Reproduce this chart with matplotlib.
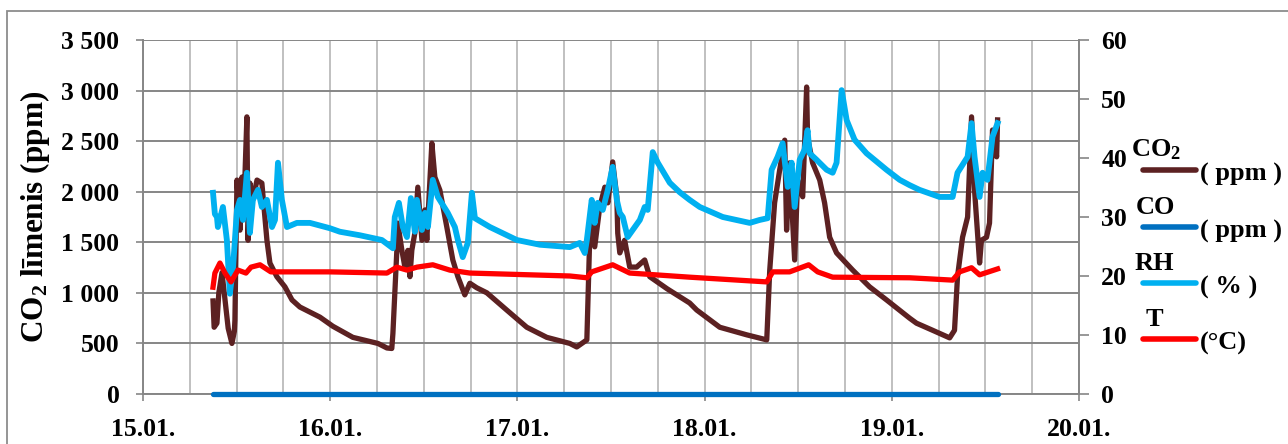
import matplotlib
matplotlib.use("Agg")
from matplotlib import pyplot as plt
from matplotlib.lines import Line2D
from matplotlib.patches import Rectangle
from matplotlib.ticker import MultipleLocator, FixedLocator

# measured series, time given as day of January (15.5 = 15.01. 12:00)
co2_time = [15.374, 15.380, 15.395, 15.405, 15.422, 15.440, 15.455, 15.475, 15.488, 15.491,
            15.502, 15.518, 15.529, 15.540, 15.555, 15.561, 15.571, 15.587, 15.609, 15.635,
            15.662, 15.678, 15.715, 15.758, 15.796, 15.838, 15.945, 16.014, 16.121, 16.255,
            16.303, 16.329, 16.335, 16.356, 16.361, 16.383, 16.399, 16.415, 16.426, 16.436,
            16.452, 16.468, 16.490, 16.506, 16.516, 16.543, 16.559, 16.586, 16.623, 16.655,
            16.682, 16.719, 16.746, 16.783, 16.837, 16.943, 17.050, 17.157, 17.280, 17.317,
            17.371, 17.387, 17.397, 17.413, 17.440, 17.467, 17.483, 17.509, 17.531, 17.536,
            17.547, 17.573, 17.600, 17.637, 17.680, 17.707, 17.800, 17.920, 17.958, 18.081,
            18.225, 18.332, 18.348, 18.374, 18.401, 18.428, 18.438, 18.454, 18.481, 18.497,
            18.524, 18.545, 18.550, 18.577, 18.615, 18.641, 18.668, 18.705, 18.791, 18.881,
            18.972, 19.095, 19.132, 19.218, 19.309, 19.335, 19.351, 19.378, 19.405, 19.426,
            19.442, 19.469, 19.479, 19.506, 19.522, 19.538, 19.560, 19.565]
co2_ppm = [920, 660, 700, 1000, 1200, 900, 650, 500, 620, 730,
           2115, 1620, 2145, 1900, 2740, 1520, 2085, 1920, 2115, 2085,
           1520, 1295, 1160, 1060, 930, 860, 760, 670, 560, 500,
           455, 450, 600, 1420, 1690, 1420, 1255, 1420, 1160, 1420,
           1590, 2045, 1520, 1820, 1520, 2480, 2145, 2015, 1650, 1325,
           1160, 980, 1095, 1050, 1000, 830, 660, 560, 500, 465,
           535, 1590, 1890, 1455, 1850, 2045, 1890, 2295, 1950, 1590,
           1395, 1520, 1255, 1255, 1325, 1160, 1040, 900, 830, 660,
           585, 535, 1225, 1890, 2215, 2510, 1620, 2285, 1325, 2115,
           1950, 3035, 2540, 2285, 2115, 1890, 1550, 1395, 1225, 1060,
           930, 750, 700, 630, 555, 630, 1160, 1550, 1750, 2740,
           2015, 1295, 1520, 1550, 1690, 2610, 2345, 2710]

co_time = [15.374, 19.565]
co_ppm = [0, 0]

rh_time = [15.374, 15.384, 15.395, 15.400, 15.427, 15.448, 15.464, 15.481, 15.502, 15.518,
           15.534, 15.555, 15.571, 15.587, 15.614, 15.635, 15.662, 15.689, 15.705, 15.721,
           15.742, 15.769, 15.822, 15.892, 15.998, 16.052, 16.159, 16.276, 16.335, 16.345,
           16.367, 16.388, 16.410, 16.431, 16.452, 16.463, 16.490, 16.506, 16.522, 16.548,
           16.575, 16.628, 16.666, 16.682, 16.708, 16.735, 16.757, 16.773, 16.853, 16.997,
           17.120, 17.280, 17.333, 17.360, 17.371, 17.397, 17.413, 17.429, 17.456, 17.483,
           17.509, 17.531, 17.547, 17.563, 17.589, 17.654, 17.680, 17.696, 17.723, 17.750,
           17.814, 17.867, 17.920, 17.974, 18.097, 18.241, 18.294, 18.337, 18.358, 18.390,
           18.417, 18.444, 18.465, 18.481, 18.508, 18.534, 18.550, 18.561, 18.598, 18.652,
           18.684, 18.705, 18.732, 18.759, 18.801, 18.865, 18.972, 19.042, 19.095, 19.148,
           19.255, 19.325, 19.351, 19.405, 19.426, 19.442, 19.469, 19.485, 19.511, 19.538,
           19.565]
rh_pct = [34.1, 30.5, 30.0, 28.3, 31.7, 26.1, 17.0, 21.5, 31.2, 32.9,
          29.5, 37.5, 27.3, 32.9, 34.6, 31.7, 32.9, 28.3, 29.5, 39.2,
          32.9, 28.3, 29.0, 29.0, 28.1, 27.5, 26.9, 26.1, 24.7, 30.0,
          32.4, 28.3, 26.6, 33.2, 27.5, 32.9, 27.8, 30.7, 28.3, 36.3,
          33.4, 30.7, 28.3, 26.1, 23.2, 25.6, 34.1, 29.8, 28.3, 26.1,
          25.3, 24.9, 25.6, 23.9, 26.1, 32.9, 29.0, 32.4, 31.2, 34.6,
          38.5, 32.9, 30.7, 30.0, 26.6, 29.5, 31.7, 31.2, 41.0, 39.2,
          35.8, 34.2, 32.9, 31.7, 30.0, 29.0, 29.5, 29.8, 38.0, 40.2,
          42.5, 35.1, 39.2, 31.7, 39.7, 41.4, 44.7, 40.8, 39.7, 38.0,
          37.5, 39.2, 51.5, 46.4, 43.1, 40.8, 38.0, 36.3, 35.4, 34.6,
          33.4, 33.4, 37.5, 40.2, 45.9, 40.2, 33.4, 37.5, 36.3, 43.6,
          45.9]

t_time = [15.374, 15.384, 15.411, 15.438, 15.470, 15.507, 15.550, 15.577, 15.625, 15.683,
          15.998, 16.303, 16.356, 16.410, 16.463, 16.548, 16.639, 16.746, 17.280, 17.371,
          17.397, 17.509, 17.600, 17.920, 18.332, 18.364, 18.454, 18.556, 18.604, 18.684,
          19.095, 19.325, 19.362, 19.426, 19.469, 19.565]
t_degc = [18.1, 20.5, 22.2, 20.5, 19.0, 21.0, 20.5, 21.5, 21.9, 20.7,
          20.7, 20.5, 21.5, 21.0, 21.5, 21.9, 21.0, 20.5, 20.0, 19.7,
          20.7, 21.9, 20.5, 19.8, 19.0, 20.7, 20.7, 21.9, 20.7, 19.8,
          19.7, 19.3, 20.7, 21.4, 20.2, 21.2]

day_ticks = [15, 16, 17, 18, 19, 20]
day_labels = ["15.01.", "16.01.", "17.01.", "18.01.", "19.01.", "20.01."]
left_ticks = [0, 500, 1000, 1500, 2000, 2500, 3000, 3500]
left_labels = ["0", "500", "1 000", "1 500", "2 000", "2 500", "3 000", "3 500"]
right_ticks = [0, 10, 20, 30, 40, 50, 60]

C_CO2 = "#5C2122"
C_CO = "#0070C0"
C_RH = "#00B0F0"
C_T = "#FF0000"
GRID_H = "#868686"
GRID_V = "#C0C0C0"


def main():
    plt.rcParams["font.family"] = ["Liberation Serif", "DejaVu Serif"]
    plt.rcParams["font.weight"] = "bold"
    plt.rcParams["mathtext.fontset"] = "custom"
    plt.rcParams["mathtext.rm"] = "Liberation Serif:bold"
    plt.rcParams["mathtext.it"] = "Liberation Serif:bold"
    plt.rcParams["mathtext.bf"] = "Liberation Serif:bold"

    fig = plt.figure(figsize=(12.88, 4.44), dpi=100)
    ax = fig.add_axes([143 / 1288, 1 - 394 / 444, (1079 - 143) / 1288, (394 - 40) / 444])

    # outer chart frame
    fig.add_artist(Rectangle((7 / 1288, -0.1), 1.2, 1.1 - 11 / 444, transform=fig.transFigure,
                             fill=False, edgecolor="#8C8C8C", lw=1.3))

    # primary axis: CO2 and CO
    ax.plot(co2_time, co2_ppm, color=C_CO2, lw=3.8, solid_joinstyle="round", zorder=3)
    ax.plot(co_time, co_ppm, color=C_CO, lw=3.8, solid_capstyle="round", zorder=3, clip_on=False)
    ax.set_xlim(15, 20)
    ax.set_ylim(0, 3500)
    ax.yaxis.set_major_locator(FixedLocator(left_ticks))
    ax.set_yticklabels(left_labels)
    ax.xaxis.set_major_locator(FixedLocator(day_ticks))
    ax.set_xticklabels(day_labels)
    ax.xaxis.set_minor_locator(MultipleLocator(0.25))

    ax.yaxis.grid(True, color=GRID_H, lw=1.4)
    ax.xaxis.grid(True, which="both", color=GRID_V, lw=1.4)
    ax.set_axisbelow(True)

    ax.tick_params(axis="y", labelsize=18.5, length=5, width=1.2, color=GRID_H, pad=12)
    ax.tick_params(axis="x", which="major", labelsize=18.5, length=5, width=1.2, color=GRID_H, pad=12)
    ax.tick_params(axis="x", which="minor", length=0)
    for side in ["top", "right"]:
        ax.spines[side].set_visible(False)
    for side in ["left", "bottom"]:
        ax.spines[side].set_color(GRID_H)
        ax.spines[side].set_linewidth(1.4)

    ax.set_ylabel(r"CO$_2$ līmenis (ppm)", fontsize=22.5, fontweight="bold", labelpad=7)

    # secondary axis: RH and T
    ax2 = ax.twinx()
    ax2.plot(rh_time, rh_pct, color=C_RH, lw=4.2, solid_joinstyle="round", zorder=3)
    ax2.plot(t_time, t_degc, color=C_T, lw=3.8, solid_joinstyle="round", zorder=3)
    ax2.set_ylim(0, 60)
    ax2.yaxis.set_major_locator(FixedLocator(right_ticks))
    ax2.tick_params(axis="y", labelsize=18.5, length=7, width=1.2, color=GRID_H, pad=9)
    for side in ["top", "left", "bottom"]:
        ax2.spines[side].set_visible(False)
    ax2.spines["right"].set_color(GRID_H)
    ax2.spines["right"].set_linewidth(1.4)

    # legend built by hand: name above line, unit to the right
    entries = [(r"CO$_2$", "( ppm )", C_CO2, 170, 1131),
               ("CO", "( ppm )", C_CO, 227, 1136),
               ("RH", "( % )", C_RH, 283, 1135),
               ("T", "(°C)", C_T, 339, 1146)]
    for name, unit, color, ypix, xname in entries:
        fig.add_artist(Line2D([1143 / 1288, 1196 / 1288], [1 - ypix / 444, 1 - ypix / 444],
                              transform=fig.transFigure, color=color, lw=4,
                              solid_capstyle="round"))
        fig.text(xname / 1288, 1 - (ypix - 20) / 444, name, fontsize=19, fontweight="bold",
                 ha="left", va="center")
        fig.text(1200 / 1288, 1 - (ypix + 4) / 444, unit, fontsize=19, fontweight="bold",
                 ha="left", va="center")

    plt.savefig("out.png", dpi=100)


main()
